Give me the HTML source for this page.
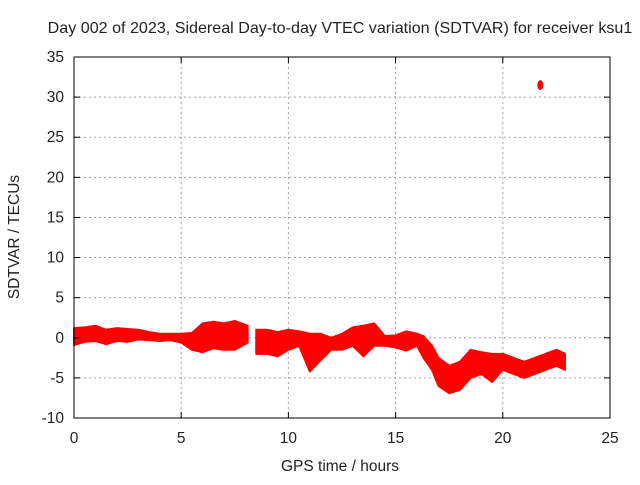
<!DOCTYPE html>
<html><head><meta charset="utf-8"><style>
body{margin:0;background:#fff;font-family:"Liberation Sans",sans-serif}
svg text{font-family:"Liberation Sans",sans-serif;font-size:15.5px;fill:#222}
</style></head><body>
<svg id="c" width="640" height="480">
<text x="340" y="33" text-anchor="middle" style="font-size:16.1px">Day 002 of 2023, Sidereal Day-to-day VTEC variation (SDTVAR) for receiver ksu1</text>
<text x="340" y="471" text-anchor="middle">GPS time / hours</text>
<text transform="translate(19,237) rotate(-90)" text-anchor="middle">SDTVAR / TECUs</text>
<g id="grid"></g><g id="data"></g><g id="axes"></g>
</svg>
<script>
const xTicks=[0,5,10,15,20,25];
const yTicks=[-10,-5,0,5,10,15,20,25,30,35];
const segA_h=[0,0.5,1,1.5,2,2.5,3,3.5,4,4.5,5,5.5,6,6.5,7,7.5,8.1];
const segA_hi=[1.2,1.3,1.5,1.0,1.2,1.1,1.0,0.7,0.5,0.5,0.5,0.6,1.8,2.0,1.8,2.1,1.5];
const segA_lo=[-0.9,-0.5,-0.4,-0.8,-0.4,-0.5,-0.2,-0.3,-0.4,-0.3,-0.6,-1.5,-1.8,-1.3,-1.5,-1.5,-0.6];
const segB_h=[8.5,9,9.5,10,10.5,11,11.5,12,12.5,13,13.5,14,14.5,15,15.5,16,16.3,16.7,17,17.5,18,18.5,19,19.5,20,20.5,21,21.5,22,22.5,22.9];
const segB_hi=[1.0,1.0,0.7,1.0,0.8,0.5,0.5,0.0,0.5,1.3,1.5,1.8,0.2,0.3,0.8,0.5,0.2,-1.0,-2.5,-3.5,-3.0,-1.5,-1.8,-2.0,-2.0,-2.5,-3.0,-2.5,-2.0,-1.5,-2.0];
const segB_lo=[-2.0,-2.0,-2.3,-1.5,-1.0,-4.2,-2.8,-1.5,-1.5,-1.0,-2.3,-1.0,-1.0,-1.2,-1.6,-1.0,-2.5,-4.0,-6.0,-6.9,-6.5,-5.0,-4.5,-5.5,-4.0,-4.5,-5.0,-4.5,-4.0,-3.5,-4.0];
const outlier_h=[21.75];const outlier_v=[31.5];
const X=h=>74+h*(610-74)/25, Y=v=>418-(v+10)*(418-57)/45;
const NS="http://www.w3.org/2000/svg";
function mk(t,a,p){const e=document.createElementNS(NS,t);for(const k in a)e.setAttribute(k,a[k]);p.appendChild(e);return e;}
const g=document.getElementById('grid'),ax=document.getElementById('axes'),d=document.getElementById('data');
xTicks.forEach(t=>{
 if(t>0&&t<25){const l=mk('line',{x1:X(t),x2:X(t),y1:57,y2:418,stroke:'#a0a0a0','stroke-dasharray':'2,3'},g);
 
 }
 mk('line',{x1:X(t),x2:X(t),y1:418,y2:412,stroke:'#000'},ax);mk('line',{x1:X(t),x2:X(t),y1:57,y2:63,stroke:'#000'},ax);
 const tx=mk('text',{x:X(t),y:443,'text-anchor':'middle'},ax);tx.textContent=t;
 
 
});
yTicks.forEach(t=>{
 if(t>-10&&t<35){const l=mk('line',{x1:74,x2:610,y1:Y(t),y2:Y(t),stroke:'#a0a0a0','stroke-dasharray':'2,3'},g);
 
 }
 mk('line',{x1:74,x2:80,y1:Y(t),y2:Y(t),stroke:'#000'},ax);mk('line',{x1:604,x2:610,y1:Y(t),y2:Y(t),stroke:'#000'},ax);
 const tx=mk('text',{x:64,y:Y(t)+5,'text-anchor':'end'},ax);tx.textContent=t;
 
 
});
const fr=mk('rect',{x:74,y:57,width:536,height:361,fill:'none',stroke:'#000'},ax);


function band(hs,hi,lo,name){
 const pts=hs.map((h,i)=>X(h)+','+Y(hi[i])).concat(hs.map((h,i)=>X(h)+','+Y(lo[i])).reverse());
 const p=mk('polygon',{points:pts.join(' '),fill:'#f00',stroke:'#f00','stroke-width':2,'stroke-linejoin':'round'},d);
 
 
}
band(segA_h,segA_hi,segA_lo,'sdtvar-band-early');
band(segB_h,segB_hi,segB_lo,'sdtvar-band-late');
outlier_h.forEach((h,i)=>{
 const p=mk('ellipse',{cx:X(h),cy:Y(outlier_v[i]),rx:3,ry:5,fill:'#f00'},d);
 
 
});
</script>
</body></html>
